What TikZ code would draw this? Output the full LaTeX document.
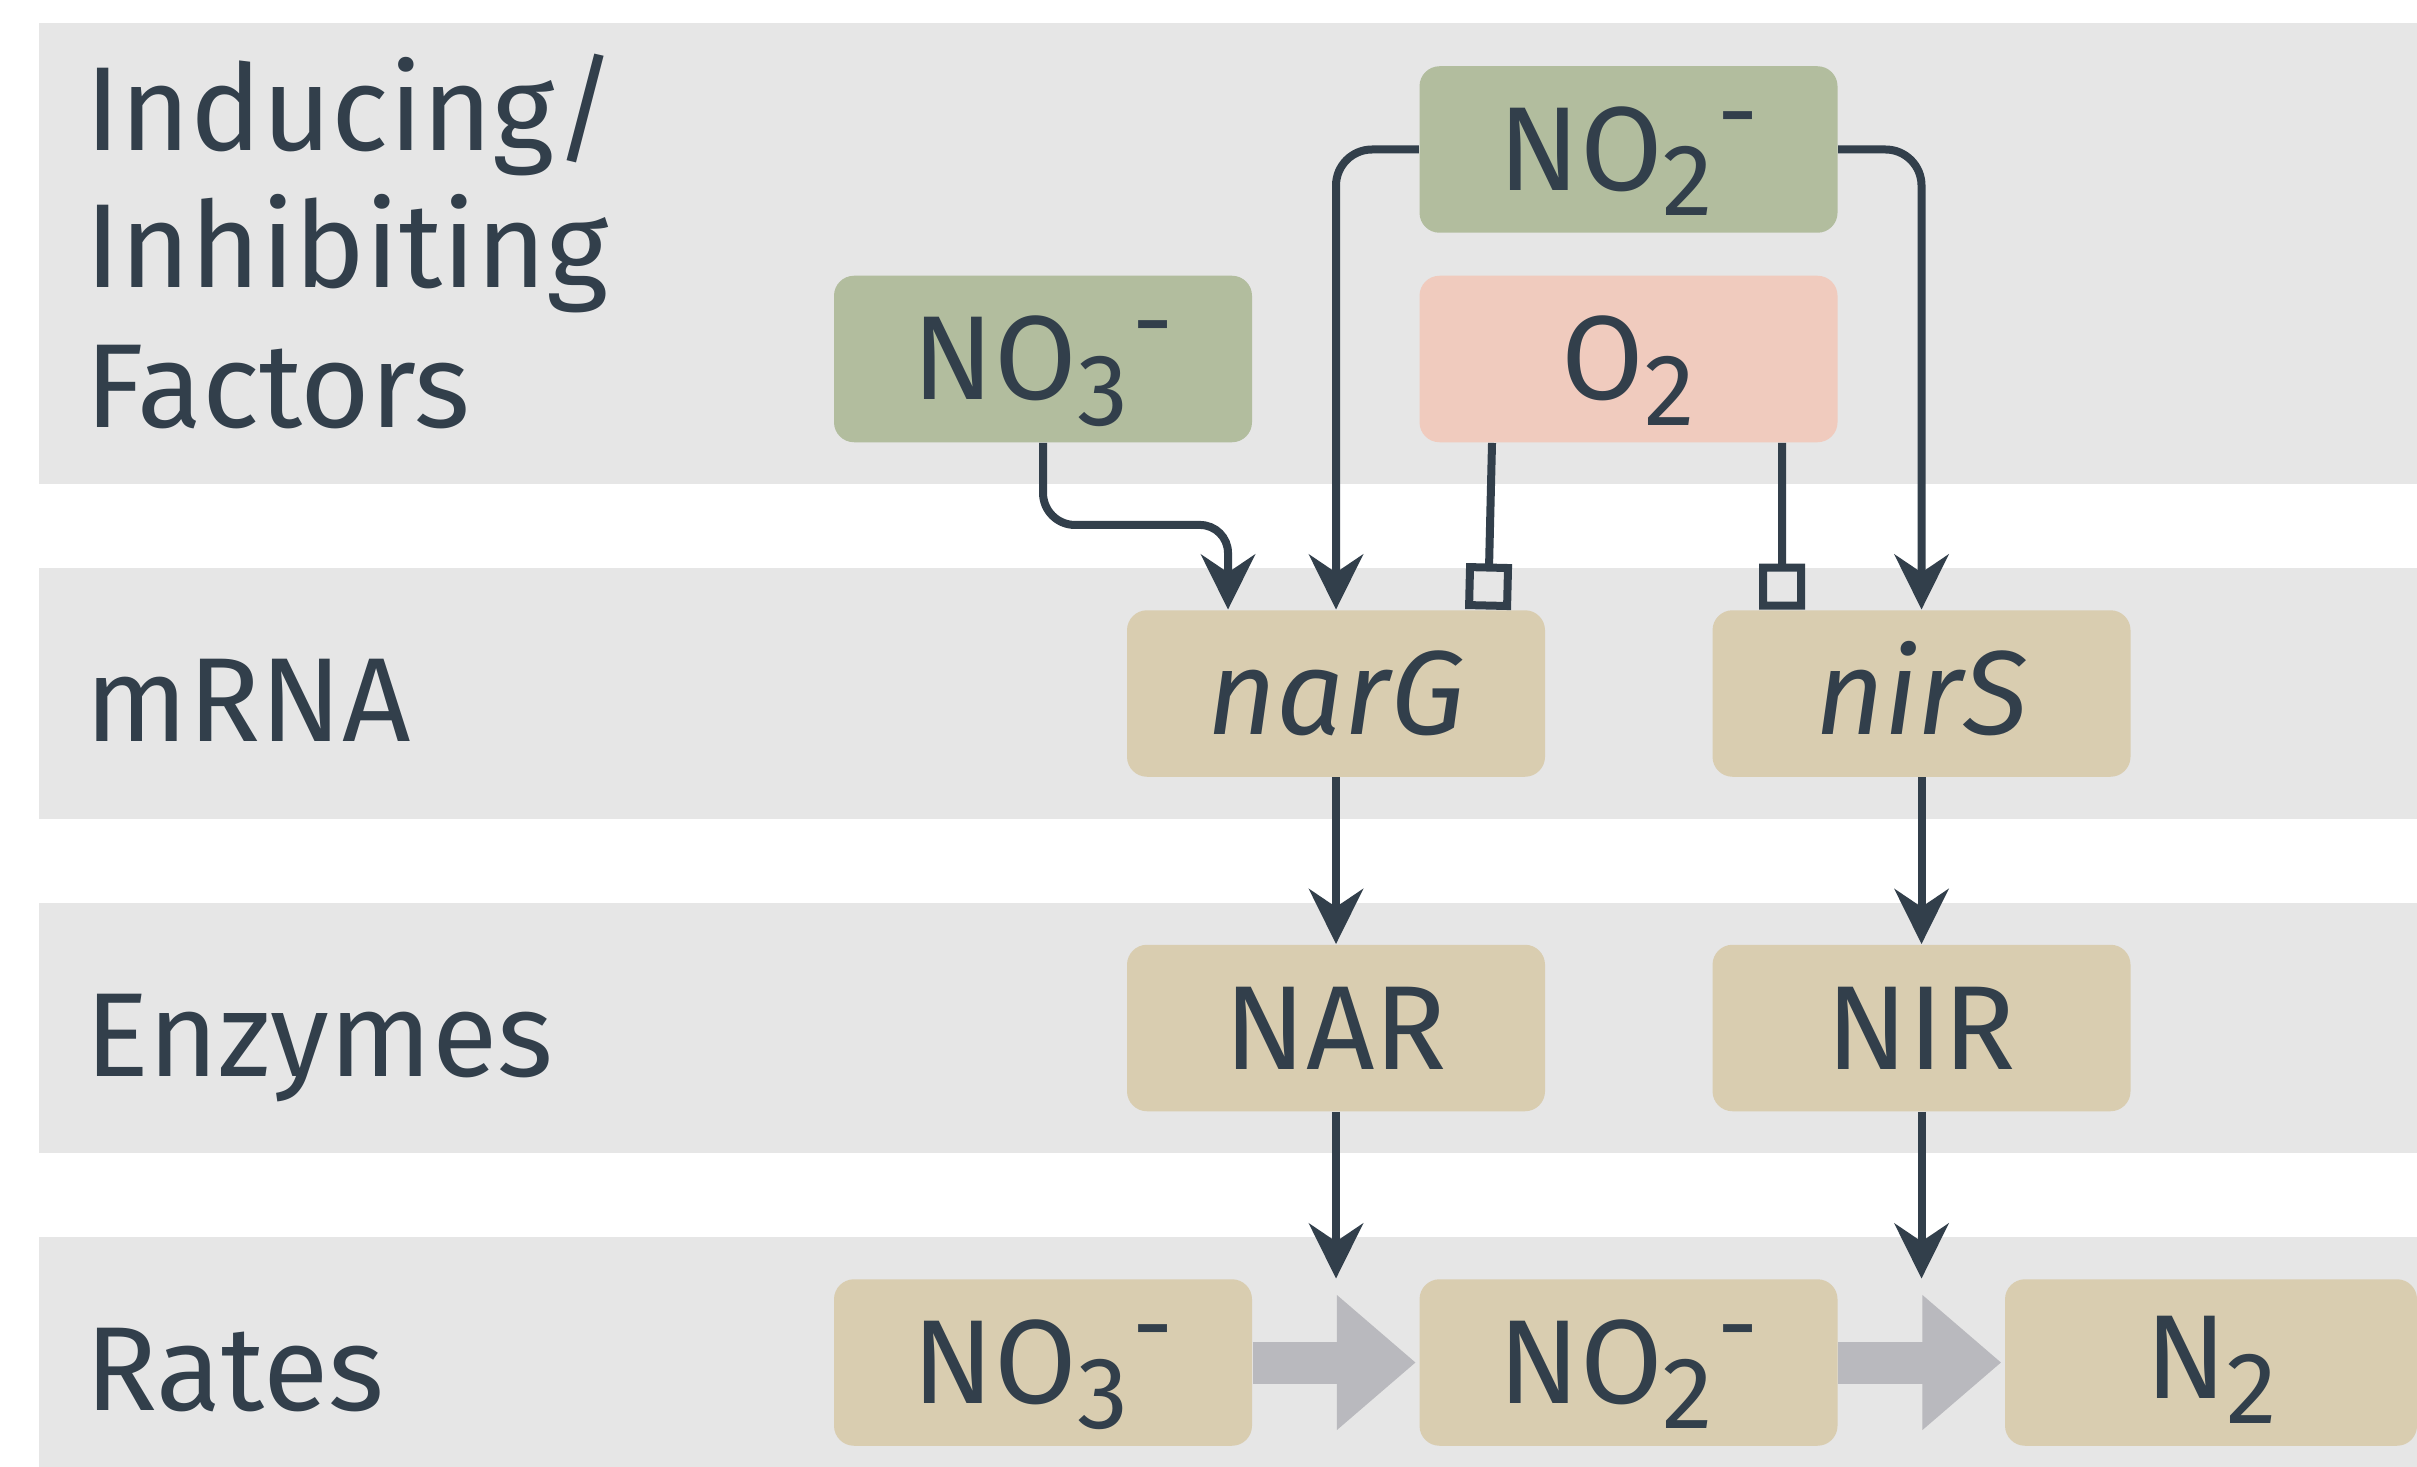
\documentclass[tikz,border=0pt]{standalone}
\usepackage{fontspec}
\setmainfont{Fira Sans}
\usetikzlibrary{arrows.meta,calc}
\definecolor{bandgray}{HTML}{E6E6E6}
\definecolor{factgreen}{HTML}{B2BD9E}
\definecolor{oxpink}{HTML}{F0CBBE}
\definecolor{tan}{HTML}{D9CDB0}
\definecolor{ink}{HTML}{323F4B}
\definecolor{flowgray}{HTML}{B9B9BE}
\newcommand{\chsub}[1]{\raisebox{-0.25cm}{\fontsize{29}{29}\selectfont #1}}
\newcommand{\chminus}{\hspace{0.04cm}\raisebox{0.43cm}{\fontsize{29}{29}\selectfont -}}
\begin{document}
\begin{tikzpicture}[
  font=\fontsize{34}{40}\selectfont,
  box/.style={rectangle, rounded corners=0.2cm, minimum width=4.18cm, minimum height=1.665cm,
    inner sep=0pt, text height=0.82cm, text depth=0pt, text=ink},
  factor/.style={box, fill=factgreen},
  oxygen/.style={box, fill=oxpink},
  bio/.style={box, fill=tan},
  rowlabel/.style={anchor=base west, inner sep=0pt, text=ink},
  band/.style={fill=bandgray},
  act/.style={draw=ink, line width=0.08cm,
    -{Stealth[length=0.55cm, width=0.54cm, inset=0.18cm]}},
  inh/.style={draw=ink, line width=0.08cm, -{Square[open, length=0.46cm, width=0.46cm]}},
  flow/.style={draw=flowgray, line width=0.42cm, shorten >=0.03cm,
    -{Triangle[length=0.79cm, width=1.30cm]}}
]
\useasboundingbox (0,0) rectangle (24.17,-14.67);
\fill[white] (0,0) rectangle (24.17,-14.67);
% bands
\fill[band] (0.385,-0.23) rectangle (24.17,-4.84);
\fill[band] (0.385,-5.68) rectangle (24.17,-8.19);
\fill[band] (0.385,-9.03) rectangle (24.17,-11.53);
\fill[band] (0.385,-12.37) rectangle (24.17,-14.67);
% row labels
\node[rowlabel] (l1) at (0.85,-1.51) {Inducing/};
\node[rowlabel] (l2) at (0.85,-2.88) {Inhibiting};
\node[rowlabel] (l3) at (0.85,-4.27) {Factors};
\node[rowlabel] (l4) at (0.85,-7.415) {mRNA};
\node[rowlabel] (l5) at (0.85,-10.76) {Enzymes};
\node[rowlabel] (l6) at (0.85,-14.10) {Rates};
% factor nodes
\node[factor] (no2top) at (16.285,-1.495) {NO\chsub{2}\chminus};
\node[factor] (no3top) at (10.43,-3.59) {NO\chsub{3}\chminus};
\node[oxygen] (o2) at (16.285,-3.59) {O\chsub{2}};
% mRNA
\node[bio] (narG) at (13.36,-6.935) {\itshape narG};
\node[bio] (nirS) at (19.215,-6.935) {\itshape nirS};
% enzymes
\node[bio] (nar) at (13.36,-10.28) {NAR};
\node[bio] (nir) at (19.215,-10.28) {NIR};
% rates
\node[bio] (r1) at (10.43,-13.625) {NO\chsub{3}\chminus};
\node[bio] (r2) at (16.285,-13.625) {NO\chsub{2}\chminus};
\node[bio, minimum width=4.12cm] (r3) at (22.11,-13.625) {\raisebox{0.05cm}{N\chsub{2}}};
% connectors
\coordinate (k1) at ($(no3top.south)+(0,-0.82)$);
\coordinate (narGin) at ($(narG.north)+(-1.08,0)$);
\coordinate (k2) at (narGin |- k1);
\draw[act] (no3top.south) -- ($(k1)+(0,0.32)$)
  arc[start angle=180, end angle=270, radius=0.32cm]
  -- ($(k2)+(-0.28,0)$)
  arc[start angle=90, end angle=0, radius=0.28cm]
  -- (narGin);
\coordinate (c1) at (narG.north |- no2top.west);
\draw[act] (no2top.west) -- ($(c1)+(0.36,0)$)
  arc[start angle=90, end angle=180, radius=0.36cm] -- (narG.north);
\coordinate (c2) at (nirS.north |- no2top.east);
\draw[act] (no2top.east) -- ($(c2)+(-0.36,0)$)
  arc[start angle=90, end angle=0, radius=0.36cm] -- (nirS.north);
\draw[inh] ($(o2.south)+(-1.365,0)$) -- ($(narG.north)+(1.52,0)$);
\draw[inh] ($(o2.south)+(1.535,0)$) -- ($(nirS.north)+(-1.395,0)$);
\draw[act] (narG.south) -- (nar.north);
\draw[act] (nirS.south) -- (nir.north);
\coordinate (t1) at (nar.south |- r1.north);
\coordinate (t2) at (nir.south |- r1.north);
\draw[act] (nar.south) -- (t1);
\draw[act] (nir.south) -- (t2);
\draw[flow] (r1.east) -- (r2.west);
\draw[flow] (r2.east) -- (r3.west);
\end{tikzpicture}
\end{document}
